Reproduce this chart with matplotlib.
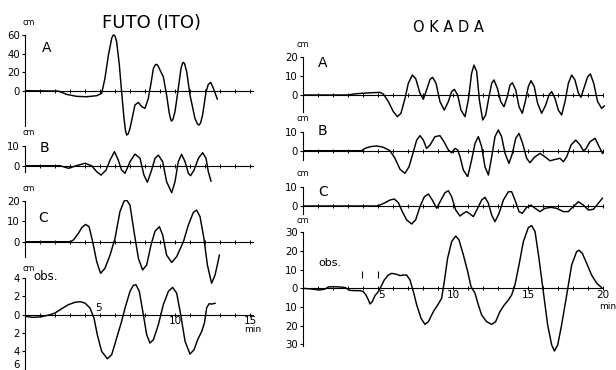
import matplotlib
matplotlib.use("Agg")
import matplotlib.pyplot as plt
from matplotlib.ticker import FixedLocator, FuncFormatter, MultipleLocator

plt.rcParams["font.family"] = ["DejaVu Sans"]

# ---------------- FUTO (ITO) : time in minutes, amplitude in cm ----------------
futo_a_t = [0, 2.22, 2.78, 3.44, 4.11, 4.78, 5.11, 5.33, 5.56, 5.78, 5.86, 5.93, 6.01, 6.11,
            6.29, 6.44, 6.6, 6.7, 6.78, 6.88, 7.0, 7.33, 7.56, 7.78, 8.0, 8.22, 8.38, 8.56,
            8.7, 8.78, 8.88, 9.0, 9.22, 9.44, 9.62, 9.72, 9.78, 9.86, 10.0, 10.22, 10.4,
            10.5, 10.56, 10.64, 10.78, 11.0, 11.33, 11.5, 11.6, 11.7, 11.84, 12.07, 12.22,
            12.38, 12.56, 12.82]
futo_a_cm = [0, -0.4, -4.0, -6.1, -6.5, -5.4, -2.9, 13.3, 38.4, 56.4, 59.5, 60.0, 58.5, 52.8,
             27.7, -1.1, -29.8, -43.0, -47.8, -46.5, -40.6, -15.4, -12.6, -17.2, -19.0, -8.3,
             6.1, 24.1, 28.0, 28.4, 26.5, 22.3, 15.1, -4.7, -24.4, -31.5, -32.7, -31.0, -22.6,
             2.5, 24.1, 29.5, 30.5, 29.0, 20.5, -4.7, -29.8, -36.0, -37.0, -35.0, -26.2,
             -1.1, 6.8, 9.0, 2.5, -9.0]

futo_b_t = [0, 2.33, 2.56, 2.89, 3.22, 3.56, 4.0, 4.44, 4.78, 5.07, 5.4, 5.67, 5.96, 6.22,
            6.44, 6.67, 7.0, 7.33, 7.67, 7.93, 8.16, 8.44, 8.67, 8.89, 9.18, 9.44, 9.78,
            10.0, 10.22, 10.44, 10.67, 10.89, 11.04, 11.27, 11.56, 11.84, 12.07, 12.22, 12.4]
futo_b_cm = [0, 0, -0.5, -1.3, -0.5, 0.3, 1.2, 0, -3.0, -4.7, -2.2, 2.8, 7.0, 2.8,
             -2.2, -3.8, 2.0, 5.8, 3.7, -4.7, -8.3, -2.2, 3.7, 5.3, 2.0, -8.0, -13.5,
             -8.0, 2.0, 5.7, 2.0, -3.8, -5.0, -2.2, 3.7, 6.5, 3.7, -3.0, -7.7]

futo_c_t = [0, 3.0, 3.22, 3.56, 3.78, 4.04, 4.27, 4.51, 4.78, 5.04, 5.33, 5.67, 6.0, 6.33,
            6.6, 6.78, 7.0, 7.27, 7.56, 7.84, 8.11, 8.4, 8.67, 8.96, 9.18, 9.44, 9.78,
            10.11, 10.56, 10.89, 11.22, 11.44, 11.67, 11.93, 12.16, 12.44, 12.67, 12.82, 12.96]
futo_c_cm = [0, 0, 0.8, 4.1, 6.9, 8.5, 7.4, 0, -9.8, -15.6, -13.1, -6.6, 1.6, 14.8,
             20.0, 20.5, 18.0, 4.9, -8.2, -13.9, -11.5, -1.6, 5.2, 7.4, 3.3, -6.6, -10.2,
             -7.4, 0, 8.2, 14.4, 15.6, 12.3, 1.6, -11.5, -20.5, -16.4, -11.5, -6.6]

futo_obs_t = [0, 0.56, 1.11, 1.67, 2.0, 2.44, 2.89, 3.33, 3.67, 4.0, 4.33, 4.6, 4.82, 5.11,
              5.49, 5.78, 6.11, 6.44, 6.67, 7.0, 7.22, 7.4, 7.62, 7.89, 8.11, 8.33, 8.56,
              8.89, 9.22, 9.56, 9.84, 10.11, 10.38, 10.67, 11.0, 11.27, 11.51, 11.78,
              11.96, 12.11, 12.27, 12.44, 12.67]
futo_obs_cm = [-0.18, -0.29, -0.22, 0, 0.18, 0.65, 1.09, 1.35, 1.42, 1.27, 0.73, -0.36,
               -2.18, -4.0, -4.8, -4.36, -2.55, -0.73, 0.73, 2.55, 3.2, 3.27, 2.55, 0,
               -2.18, -3.09, -2.73, -1.09, 1.09, 2.55, 2.98, 2.36, 0, -2.9, -4.29, -3.82,
               -2.73, -1.82, -0.91, 0.73, 1.2, 1.16, 1.24]

# ---------------- OKADA ----------------
okada_a_t = [0, 3.02, 3.36, 3.91, 4.58, 5.13, 5.36, 5.69, 6.02, 6.29, 6.53, 6.8, 7.02, 7.29,
             7.51, 7.8, 8.02, 8.24, 8.47, 8.64, 8.87, 9.13, 9.42, 9.69, 9.91, 10.09, 10.31,
             10.53, 10.8, 11.02, 11.24, 11.4, 11.58, 11.76, 11.98, 12.18, 12.4, 12.58,
             12.73, 12.96, 13.18, 13.4, 13.62, 13.8, 13.96, 14.18, 14.4, 14.62, 14.84,
             15.02, 15.2, 15.42, 15.64, 15.91, 16.18, 16.4, 16.58, 16.8, 17.02, 17.24,
             17.47, 17.69, 17.91, 18.13, 18.36, 18.53, 18.76, 18.98, 19.16, 19.38, 19.64,
             19.91, 20.09]
okada_a_cm = [0, 0, 0.5, 0.9, 1.2, 1.4, 0.5, -3.5, -8.8, -11.5, -9.7, -1.8, 6.2, 10.6,
              8.8, 0.9, -2.3, 2.7, 8.3, 9.4, 6.2, -3.5, -8.0, -3.5, 1.8, 3.0, 0,
              -8.0, -11.5, -2.7, 11.5, 15.9, 12.4, -2.7, -13.3, -10.6, -0.9, 6.2,
              8.0, 3.5, -3.5, -6.2, -0.9, 5.3, 6.5, 2.7, -6.2, -9.7, -2.7,
              4.4, 7.6, 4.4, -4.4, -9.7, -5.3, 0, 1.8, -1.8, -8.0, -10.6,
              -3.5, 6.2, 10.6, 8.0, 0.9, -1.2, 4.4, 9.7, 11.2, 6.2, -3.5,
              -7.1, -5.8]

okada_b_t = [0, 3.91, 4.13, 4.47, 4.91, 5.36, 5.8, 6.13, 6.47, 6.8, 7.07, 7.36, 7.58, 7.8,
             8.02, 8.24, 8.47, 8.8, 9.13, 9.4, 9.69, 9.91, 10.13, 10.31, 10.47, 10.69, 10.98,
             11.24, 11.47, 11.69, 11.91, 12.13, 12.36, 12.58, 12.8, 13.02, 13.24, 13.47,
             13.73, 13.96, 14.18, 14.4, 14.64, 14.91, 15.13, 15.42, 15.8, 16.13, 16.47,
             16.8, 17.13, 17.36, 17.58, 17.87, 18.18, 18.47, 18.69, 18.84, 19.13, 19.47,
             19.69, 19.96]
okada_b_cm = [0, 0, 1.2, 2.1, 2.5, 1.8, 0, -4.0, -9.8, -11.9, -8.4, -0.5, 5.6, 7.9,
              5.6, 1.2, 3.0, 7.4, 7.9, 4.7, 0.4, -1.1, 1.2, 0.4, -3.2, -10.2, -13.7,
              -4.9, 3.9, 7.4, 2.1, -8.4, -12.8, -3.2, 7.4, 10.9, 7.4, -1.4,
              -6.7, -1.4, 6.5, 9.1, 3.9, -4.0, -6.3, -3.5, -1.4, -3.2, -5.3,
              -4.6, -4.0, -5.8, -3.2, 3.0, 5.6, 3.0, 0, 0.7, 4.7, 6.5,
              3.0, -1.4]

okada_c_t = [0, 4.91, 5.13, 5.47, 5.8, 6.09, 6.36, 6.62, 6.91, 7.24, 7.51, 7.8, 8.09, 8.36,
             8.62, 8.91, 9.2, 9.47, 9.69, 9.91, 10.18, 10.47, 10.69, 10.91, 11.13, 11.36,
             11.64, 11.91, 12.13, 12.36, 12.58, 12.8, 13.07, 13.36, 13.69, 13.91, 14.13,
             14.4, 14.62, 14.91, 15.2, 15.47, 15.8, 16.13, 16.53, 16.91, 17.36, 17.69,
             18.02, 18.36, 18.69, 19.02, 19.36, 19.69, 19.96]
okada_c_cm = [0, 0, 0.5, 1.7, 3.1, 3.6, 1.7, -2.9, -7.2, -9.3, -7.2, -0.3, 4.8, 6.2,
              3.1, -1.2, 3.1, 6.9, 7.9, 4.8, -2.1, -5.2, -3.8, -2.9, -4.1, -5.5,
              -1.2, 3.1, 4.5, 1.4, -4.7, -8.1, -3.8, 3.1, 7.4, 7.4, 3.1,
              -2.9, -3.8, -0.7, 0.5, -1.2, -2.9, -1.2, -0.7, -1.2, -2.9, -2.9,
              -0.3, 2.2, 0.5, -2.1, -1.7, 1.4, 4.0]

okada_obs_t = [0, 0.58, 1.13, 1.47, 1.69, 2.02, 2.47, 2.8, 3.13, 3.47, 3.8, 4.02, 4.2, 4.36,
               4.47, 4.62, 4.8, 5.02, 5.2, 5.42, 5.69, 5.91, 6.24, 6.47, 6.69, 6.91, 7.13,
               7.36, 7.58, 7.87, 8.13, 8.36, 8.69, 8.98, 9.24, 9.42, 9.64, 9.91, 10.18,
               10.4, 10.69, 10.98, 11.2, 11.47, 11.69, 11.91, 12.24, 12.58, 12.84, 13.13,
               13.42, 13.69, 13.91, 14.13, 14.4, 14.69, 15.02, 15.24, 15.47, 15.73, 16.02,
               16.31, 16.58, 16.76, 16.98, 17.24, 17.58, 17.91, 18.24, 18.4, 18.62, 18.91,
               19.24, 19.58, 19.91]
okada_obs_cm = [0, -0.4, -0.9, -0.4, 0.7, 0.9, 0.7, 0.4, -1.1, -1.25, -1.25, -1.8, -3.6,
                -6.25, -8.4, -7.1, -3.9, -1.8, 0.9, 4.5, 7.1, 8.0, 7.5, 6.8, 7.1, 7.1,
                4.5, -1.8, -8.9, -16.1, -19.3, -17.9, -12.5, -8.9, -5.4, 3.6, 16.1, 25.0,
                28.0, 25.9, 17.9, 8.9, 0.9, -2.7, -8.9, -14.3, -17.9, -19.3, -17.9, -12.5,
                -8.9, -6.25, -3.6, 1.8, 12.5, 25.0, 32.5, 33.6, 30.4, 16.1, -1.8, -19.6,
                -30.4, -33.6, -30.4, -19.6, -3.6, 12.5, 19.6, 20.4, 18.75, 13.4, 7.1, 2.7,
                0.36]

# arrival marks on the observed OKADA record (minutes)
okada_marks = [3.9, 5.0]

# y-axis ticks for each panel
futo_a_ticks = [0, 20, 40, 60]
futo_b_ticks = [0, 10]
futo_c_ticks = [0, 10, 20]
futo_obs_ticks = [-6, -4, -2, 0, 2, 4]
okada_a_ticks = [0, 10, 20]
okada_b_ticks = [0, 10]
okada_c_ticks = [0, 10]
okada_obs_ticks = [-30, -20, -10, 0, 10, 20, 30]

W, H = 616, 370
fig = plt.figure(figsize=(W / 100, H / 100), dpi=100)

PX_PER_MIN = 15.0


def panel(x0, xmax, axis_end, zero_px, px_per_cm, ylim, spine_lo, ticks, letter,
          letter_xy, cm_offset=(2.5, 6), letter_size=10):
    lo, hi = ylim
    top_px = zero_px - hi * px_per_cm
    bot_px = zero_px - lo * px_per_cm
    rect = [x0 / W, (H - bot_px) / H, xmax * PX_PER_MIN / W, (bot_px - top_px) / H]
    ax = fig.add_axes(rect)
    ax.set_xlim(0, xmax)
    ax.set_ylim(lo, hi)
    ax.patch.set_visible(False)
    for s in ("top", "right"):
        ax.spines[s].set_visible(False)
    ax.spines["bottom"].set_position(("data", 0))
    ax.spines["bottom"].set_bounds(0, axis_end)
    ax.spines["left"].set_bounds(spine_lo, ticks[-1])
    for s in ("bottom", "left"):
        ax.spines[s].set_linewidth(0.8)
    ax.xaxis.set_major_locator(MultipleLocator(1))
    ax.tick_params(axis="x", direction="inout", length=3.5, width=0.7, labelbottom=False)
    ax.yaxis.set_major_locator(FixedLocator(ticks))
    ax.yaxis.set_major_formatter(FuncFormatter(lambda v, p: f"{abs(v):g}"))
    ax.tick_params(axis="y", direction="out", length=2.5, width=0.8, pad=1.2,
                   labelsize=7.3)
    ax.annotate("cm", xy=(0, ticks[-1]), xytext=cm_offset, textcoords="offset points",
                ha="center", va="bottom", fontsize=5.8)
    ax.text(letter_xy[0], letter_xy[1], letter, transform=ax.transAxes,
            fontsize=letter_size, ha="left", va="center")
    return ax


LW = 1.05

# FUTO (ITO)
ax = panel(25, 15.3, 15.2, 90.7, 0.928, (-50, 62), -38, futo_a_ticks, "A", (0.074, 0.857))
ax.plot(futo_a_t, futo_a_cm, color="black", lw=LW)

ax = panel(25, 15.3, 15.2, 165.7, 2.0, (-14, 10.5), -3, futo_b_ticks, "B", (0.065, 0.93))
ax.plot(futo_b_t, futo_b_cm, color="black", lw=LW)

ax = panel(25, 15.3, 15.2, 241.7, 2.03, (-21, 20.5), -7.5, futo_c_ticks, "C", (0.057, 0.787))
ax.plot(futo_c_t, futo_c_cm, color="black", lw=LW)

ax = panel(25, 15.3, 15.2, 314.7, 9.17, (-6, 4.2), -6, futo_obs_ticks, "obs.", (0.035, 1.0),
           cm_offset=(2.5, 3.5), letter_size=8.5)
ax.plot(futo_obs_t, futo_obs_cm, color="black", lw=LW)
# keep the lowest tick label inside the figure edge
ax.get_yticklabels()[0].set_va("bottom")
ax.text(4.9, 0.15, "5", fontsize=7.5, ha="center", va="bottom")
ax.text(10.0, -0.15, "10", fontsize=7.5, ha="center", va="top")
ax.text(15.0, -0.15, "15", fontsize=7.5, ha="center", va="top")
ax.text(15.2, -1.1, "min", fontsize=6.5, ha="center", va="top")

# OKADA
ax = panel(303, 20.2, 20.0, 95, 1.883, (-14, 20.5), -9, okada_a_ticks, "A", (0.05, 0.90),
           cm_offset=(0, 6))
ax.plot(okada_a_t, okada_a_cm, color="black", lw=LW)

ax = panel(303, 20.2, 20.0, 150.7, 1.9, (-14, 11.5), -5, okada_b_ticks, "B", (0.047, 0.95),
           cm_offset=(0, 6))
ax.plot(okada_b_t, okada_b_cm, color="black", lw=LW)

ax = panel(303, 20.2, 20.0, 206, 1.933, (-10, 10.5), -4, okada_c_ticks, "C", (0.05, 0.84),
           cm_offset=(0, 6))
ax.plot(okada_c_t, okada_c_cm, color="black", lw=LW)

ax = panel(303, 20.2, 20.0, 288.3, 1.867, (-35, 35), -31, okada_obs_ticks, "obs.",
           (0.05, 0.69), cm_offset=(0, 5), letter_size=8)
ax.plot(okada_obs_t, okada_obs_cm, color="black", lw=LW)
ax.vlines(okada_marks, 5.5, 9.0, color="black", lw=0.8)
ax.text(5.0, -0.8, "5", fontsize=7.5, ha="left", va="top")
for v in (10, 15, 20):
    ax.text(v, -0.8, str(v), fontsize=7.5, ha="center", va="top")
ax.text(20.3, -7.5, "min", fontsize=6.5, ha="center", va="top")

fig.text(151 / W, 1 - 23 / H, "FUTO (ITO)", fontsize=13, ha="center", va="center")
fig.text(448 / W, 1 - 28 / H, "O K A D A", fontsize=10.5, ha="center", va="center")

fig.savefig("out.png", dpi=100, facecolor="white")
